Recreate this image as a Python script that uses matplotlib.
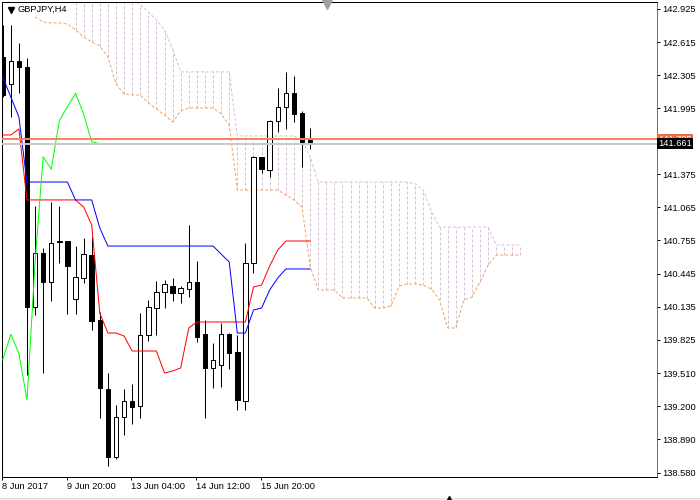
import numpy as np
import matplotlib.pyplot as plt
import matplotlib.transforms as mtransforms
from matplotlib.patches import Rectangle

symbol = "GBPJPY,H4"

# H4 candles, 8 Jun 12:00 .. 16 Jun
opens = [142.475, 142.222, 142.440, 142.381, 140.132, 140.641, 140.369, 140.744, 140.750, 140.204,
         140.406, 140.619, 140.010, 139.363, 138.723, 139.098, 139.250, 139.206, 139.869, 140.119,
         140.269, 140.328, 140.260, 140.300, 140.369, 139.876, 139.557, 139.588, 139.876, 139.713,
         139.253, 140.547, 141.540, 141.416, 141.878, 142.009, 142.135, 141.947, 141.697]
highs = [142.775, 142.775, 142.609, 142.463, 141.078, 140.685, 141.119, 141.078, 140.750, 140.706,
         140.776, 140.791, 140.088, 139.516, 139.213, 139.363, 139.410, 140.073, 140.197, 140.375,
         140.385, 140.401, 140.331, 140.900, 140.566, 140.010, 139.794, 139.979, 139.891, 139.869,
         140.734, 141.550, 141.540, 141.885, 142.182, 142.332, 142.297, 141.969, 141.807]
lows = [142.100, 141.915, 142.135, 139.494, 140.057, 139.510, 140.191, 140.541, 140.066, 140.066,
        140.357, 139.916, 139.088, 138.641, 138.704, 138.932, 139.035, 139.088, 139.816, 139.869,
        140.119, 140.191, 140.166, 140.223, 139.806, 139.088, 139.369, 139.379, 139.548, 139.166,
        139.166, 140.453, 141.385, 141.347, 141.775, 141.800, 141.869, 141.447, 141.610]
closes = [142.119, 142.440, 142.381, 140.132, 140.641, 140.363, 140.734, 140.750, 140.519, 140.416,
          140.626, 140.003, 139.375, 138.723, 139.098, 139.250, 139.197, 139.869, 140.129, 140.269,
          140.344, 140.260, 140.307, 140.363, 139.853, 139.557, 139.635, 139.876, 139.698, 139.260,
          140.547, 141.540, 141.422, 141.878, 142.009, 142.135, 141.941, 141.681, 141.661]

tenkan = [141.744, 141.744, 141.800, 141.135, 141.135, 141.135, 141.135, 141.135, 141.135, 141.135,
          141.069, 140.900, 140.075, 139.888, 139.888, 139.860, 139.719, 139.719, 139.719, 139.719,
          139.513, 139.532, 139.560, 139.935, 139.991, 139.991, 139.991, 139.991, 139.991, 139.991,
          139.991, 140.319, 140.338, 140.516, 140.666, 140.750, 140.750, 140.750, 140.750]
kijun = [142.288, 142.100, 141.913, 141.303, 141.303, 141.303, 141.303, 141.303, 141.303, 141.135,
         141.135, 141.135, 140.872, 140.703, 140.703, 140.703, 140.703, 140.703, 140.703, 140.703,
         140.703, 140.703, 140.703, 140.703, 140.703, 140.703, 140.703, 140.628, 140.553, 139.888,
         139.888, 140.103, 140.122, 140.291, 140.403, 140.488, 140.488, 140.488, 140.488]

# senkou spans, bars 4..64 (shifted 26 ahead); span B not visible for the first bars
span_first = 4
span_a = [142.850, 142.803, 142.794, 142.794, 142.784, 142.728, 142.663, 142.616, 142.578, 142.475,
          142.222, 142.128, 142.119, 142.119, 142.044, 141.988, 141.931, 141.866, 141.969, 141.997,
          141.997, 141.997, 141.997, 141.941, 141.838, 141.228, 141.228, 141.228, 141.228, 141.228,
          141.228, 141.181, 141.135, 141.069, 140.516, 140.291, 140.291, 140.291, 140.216, 140.216,
          140.216, 140.216, 140.122, 140.122, 140.141, 140.328, 140.347, 140.347, 140.338, 140.300,
          140.197, 139.935, 139.935, 140.197, 140.225, 140.366, 140.525, 140.619, 140.619, 140.619,
          140.619]
span_b = [np.nan] * 5 + [143.100] * 7 + [143.020, 142.963, 142.897, 142.822, 142.728, 142.550] \
         + [142.335] * 7 + [141.735] * 8 + [141.697, 141.538] + [141.303] * 12 \
         + [141.285, 141.228, 141.022] + [140.881] * 7 + [140.713] * 4
chikou_shift = 26

date_ticks = [0, 8, 16, 24, 32]
date_labels = ["8 Jun 2017", "9 Jun 20:00", "13 Jun 04:00", "14 Jun 12:00", "15 Jun 20:00"]
price_ticks = [142.925, 142.615, 142.305, 141.995, 141.375, 141.065, 140.755,
               140.445, 140.135, 139.825, 139.510, 139.200, 138.890, 138.580]
ask_price = 141.705
bid_price = 141.661

plt.rcParams['font.family'] = ['Liberation Sans', 'DejaVu Sans']
fs = 6.7
lw = 0.72

fig = plt.figure(figsize=(7, 5), dpi=100)
ax = fig.add_axes([1.7 / 700, 1 - 476.5 / 500, 655.6 / 700, 474.8 / 500])

o = np.array(opens); h = np.array(highs); l = np.array(lows); c = np.array(closes)
x = np.arange(len(c))

# cloud
xs = np.arange(span_first, span_first + len(span_a))
sa = np.array(span_a); sb = np.array(span_b)
ok = ~np.isnan(sb)
ax.vlines(xs[ok], sa[ok], sb[ok], colors='#d8bfd8', linestyles=[(0, (3, 2))], lw=lw, zorder=1)
ax.plot(xs, sa, color='#f4a460', ls=(0, (3, 2)), lw=lw, zorder=2)
ax.plot(xs, sb, color='#d8bfd8', ls=(0, (3, 2)), lw=lw, zorder=2)

# candles
ax.vlines(x, l, h, colors='black', lw=lw, zorder=3)
up = c >= o
ax.bar(x[up], (c - o)[up], bottom=o[up], width=0.55, color='white', edgecolor='black', lw=lw, zorder=4)
ax.bar(x[~up], (o - c)[~up], bottom=c[~up], width=0.55, color='black', edgecolor='black', lw=lw, zorder=4)

# ichimoku lines
ax.plot(x, tenkan, color='#ff0000', lw=lw, zorder=5)
ax.plot(x, kijun, color='#0000ff', lw=lw, zorder=5)
ax.plot(x[chikou_shift:] - chikou_shift, c[chikou_shift:], color='#00ff00', lw=lw, zorder=5)

# ask / bid lines
ax.axhline(ask_price, color='#f4825f', lw=1.4, zorder=6)
ax.axhline(bid_price, color='#c8c8c8', lw=1.4, zorder=6)

ax.set_xlim(-0.124, 80.915)
ax.set_ylim(138.543, 142.993)

ax.yaxis.tick_right()
ax.set_yticks(price_ticks)
ax.set_yticklabels([f"{p:.3f}" for p in price_ticks])
ax.tick_params(axis='y', length=2.2, width=lw, pad=1.2, labelsize=fs, colors='black')
ax.set_xticks(np.array(date_ticks) - 0.1)
ax.set_xticklabels(date_labels, ha='left')
ax.tick_params(axis='x', length=2.2, width=lw, pad=1.5, labelsize=fs)

for s in ['left', 'top', 'bottom']:
    ax.spines[s].set_linewidth(lw)
    ax.spines[s].set_color('black')
ax.spines['right'].set_linewidth(lw)
ax.spines['right'].set_color('#707070')

tr = mtransforms.blended_transform_factory(ax.transAxes, ax.transData)
ax.text(1.0015, ask_price, "141.705", transform=tr, color='white', fontsize=fs, va='center', ha='left',
        bbox=dict(boxstyle='square,pad=0.12', fc='#f26b3a', ec='none'), zorder=7, clip_on=False)
ax.text(1.0015, bid_price, "141.661", transform=tr, color='white', fontsize=fs, va='center', ha='left',
        bbox=dict(boxstyle='square,pad=0.12', fc='black', ec='none'), zorder=8, clip_on=False)

ax.text(15.5 / 655.6, 1 - 8 / 474.8, symbol, transform=ax.transAxes, fontsize=fs, va='center', ha='left')
ax.plot([9 / 655.6], [1 - 8 / 474.8], marker='v', color='black', markersize=4.5, transform=ax.transAxes)

# chart shift markers and bottom strip
fig.add_artist(plt.Line2D([327 / 700], [1 - 4 / 500], marker='v', color='#a0a0a0', markersize=7))
fig.add_artist(Rectangle((0, 0), 1, 2.5 / 500, transform=fig.transFigure, fc='#f0f0f0', ec='#d8d8d8', lw=0.5))
fig.add_artist(plt.Line2D([449 / 700], [1 / 500], marker='^', color='black', markersize=5))

fig.savefig("out.png", dpi=100)
